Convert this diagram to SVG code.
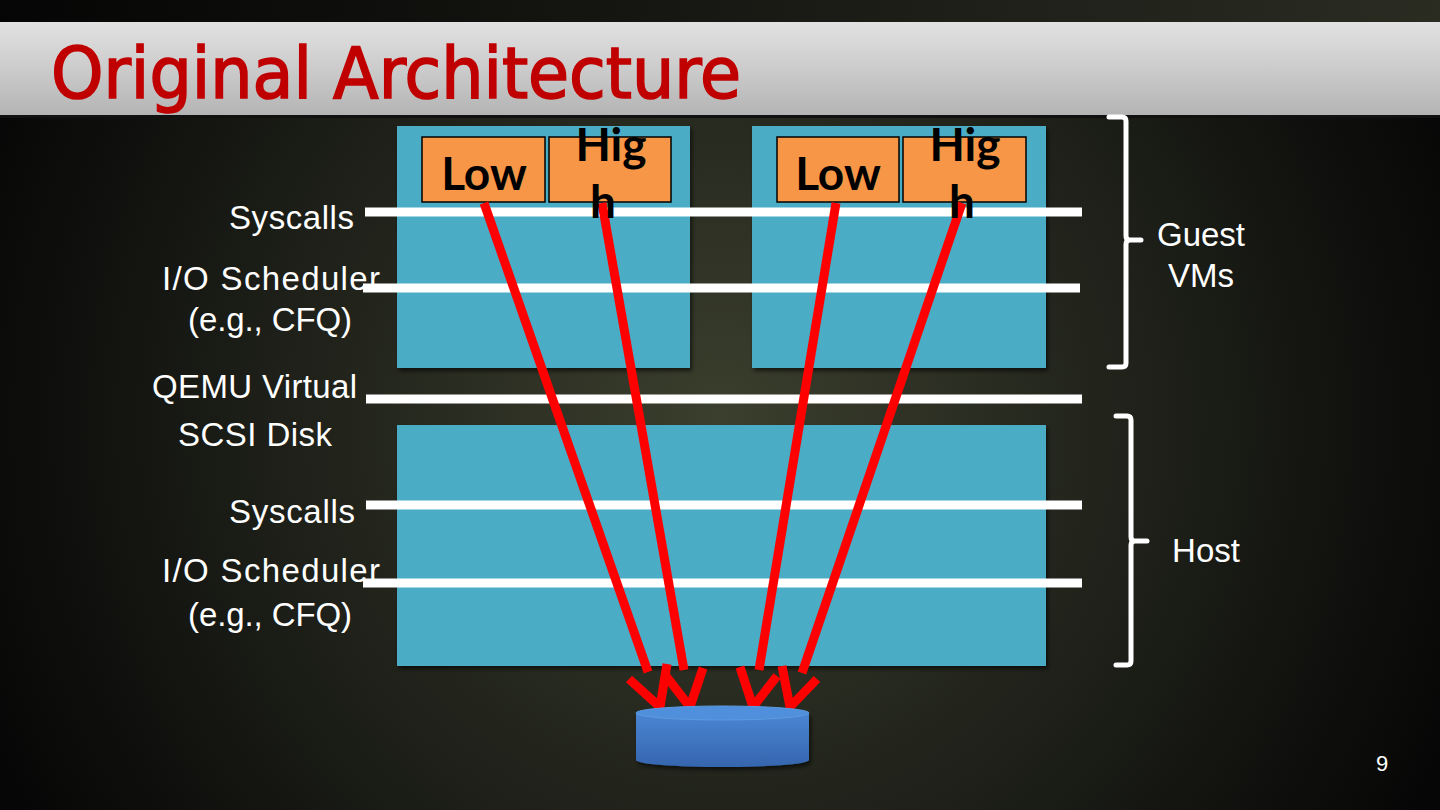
<svg xmlns="http://www.w3.org/2000/svg" width="1440" height="810" viewBox="0 0 1440 810">
<defs>
<radialGradient id="bg" cx="720" cy="420" r="800" gradientUnits="userSpaceOnUse">
<stop offset="0" stop-color="#3b3f2d"/>
<stop offset="0.55" stop-color="#1e2019"/>
<stop offset="1" stop-color="#060606"/>
</radialGradient>
<linearGradient id="top" x1="0" y1="0" x2="1" y2="0">
<stop offset="0" stop-color="#050505"/>
<stop offset="1" stop-color="#2a2c22"/>
</linearGradient>
<linearGradient id="banner" x1="0" y1="0" x2="0" y2="1">
<stop offset="0" stop-color="#e2e2e2"/>
<stop offset="1" stop-color="#b4b4b4"/>
</linearGradient>
<linearGradient id="disk" x1="0" y1="0" x2="0" y2="1">
<stop offset="0" stop-color="#4a86d4"/>
<stop offset="1" stop-color="#3565ad"/>
</linearGradient>
<filter id="sh" x="-10%" y="-10%" width="130%" height="130%">
<feDropShadow dx="2" dy="3" stdDeviation="2" flood-color="#000" flood-opacity="0.6"/>
</filter>
<style>
.vm{fill:#4bacc6;filter:url(#sh)}
.pr{fill:#f79646;stroke:#000;stroke-width:1.5}
.pt{font-family:Lato,"Open Sans",sans-serif;font-weight:bold;font-size:46px;fill:#000;text-anchor:middle}
.lbl{font-family:"Liberation Sans",Arial,sans-serif;font-size:33px;fill:#fff;text-anchor:end}
.rl{font-family:"Liberation Sans",Arial,sans-serif;font-size:33px;fill:#fff;text-anchor:middle}
.wl{stroke:#fff;stroke-width:9;fill:none}
.ar{stroke:#ff0000;stroke-width:9;fill:none}
.br{stroke:#fff;stroke-width:5;fill:none;stroke-linecap:round;stroke-linejoin:round}
</style>
</defs>
<rect width="1440" height="810" fill="url(#bg)"/>
<rect width="1440" height="22" fill="url(#top)"/>
<rect y="22" width="1440" height="94" fill="url(#banner)"/>
<rect y="115" width="1440" height="3" fill="#111"/>
<text x="51" y="98" font-family="'DejaVu Sans Condensed','Liberation Sans Narrow',sans-serif" font-size="71" fill="#c00000" stroke="#c00000" stroke-width="1.6" textLength="690" lengthAdjust="spacingAndGlyphs">Original Architecture</text>

<g id="vm1"><rect class="vm" x="397" y="126" width="293" height="242"/></g>
<g id="vm2"><rect class="vm" x="752" y="126" width="294" height="242"/></g>
<g id="host"><rect class="vm" x="397" y="425" width="649" height="241"/></g>

<g id="low1"><rect class="pr" x="422" y="137" width="123" height="65"/></g>
<g id="high1"><rect class="pr" x="549" y="137" width="122" height="65"/></g>
<g id="low2"><rect class="pr" x="777" y="137" width="122" height="65"/></g>
<g id="high2"><rect class="pr" x="903" y="137" width="123" height="65"/></g>

<g id="layers">
<line class="wl" x1="365" y1="212" x2="1082" y2="212"/>
<line class="wl" x1="363" y1="288" x2="1080" y2="288"/>
<line class="wl" x1="366" y1="399" x2="1082" y2="399"/>
<line class="wl" x1="366" y1="505" x2="1082" y2="505"/>
<line class="wl" x1="363" y1="583" x2="1082" y2="583"/>
</g>

<g id="connectors">
<line class="ar" x1="484" y1="203" x2="648" y2="672"/>
<polyline class="ar" points="629,679 660,707 667,664"/>
<line class="ar" x1="602" y1="203" x2="684" y2="670"/>
<polyline class="ar" points="666,676 690,707 703,668"/>
<line class="ar" x1="836" y1="203" x2="759" y2="670"/>
<polyline class="ar" points="740,667 753,707 777,676"/>
<line class="ar" x1="962" y1="203" x2="802" y2="673"/>
<polyline class="ar" points="782,666 790,707 817,679"/>
</g>

<g id="labels-prio">
<text class="pt" x="484" y="190">Low</text>
<text class="pt" x="611" y="161">Hig</text>
<text class="pt" x="603" y="218">h</text>
<text class="pt" x="838" y="190">Low</text>
<text class="pt" x="965" y="161">Hig</text>
<text class="pt" x="962" y="218">h</text>
</g>

<g id="left-labels">
<text class="lbl" x="354" y="229" textLength="125">Syscalls</text>
<text class="lbl" x="380" y="290" textLength="218">I/O Scheduler</text>
<text class="lbl" x="352" y="331" textLength="164">(e.g., CFQ)</text>
<text class="lbl" x="357" y="398" textLength="205">QEMU Virtual</text>
<text class="lbl" x="332" y="446" textLength="154">SCSI Disk</text>
<text class="lbl" x="355" y="523" textLength="126">Syscalls</text>
<text class="lbl" x="380" y="582" textLength="218">I/O Scheduler</text>
<text class="lbl" x="352" y="626" textLength="164">(e.g., CFQ)</text>
</g>

<g id="guest-bracket">
<path class="br" d="M1109,117 L1122,117 Q1126,117 1126,121 L1126,236 Q1126,240 1130,240 L1141,240 M1130,240 Q1126,240 1126,244 L1126,363 Q1126,367 1122,367 L1109,367"/>
<text class="rl" x="1201" y="246">Guest</text>
<text class="rl" x="1201" y="287">VMs</text>
</g>
<g id="host-bracket">
<path class="br" d="M1116,416 L1127,416 Q1131,416 1131,420 L1131,537 Q1131,541 1135,541 L1147,541 M1135,541 Q1131,541 1131,545 L1131,661 Q1131,665 1127,665 L1116,665"/>
<text class="rl" x="1206" y="562">Host</text>
</g>

<g id="disk-node">
<path d="M636,713 L636,760 A86.5,7 0 0 0 809,760 L809,713 Z" fill="url(#disk)" filter="url(#sh)"/>
<ellipse cx="722.5" cy="713" rx="86.5" ry="7" fill="#4f8fdc" stroke="#5d9ae0" stroke-width="1"/>
</g>

<text x="1382" y="771" font-family="'Liberation Sans',Arial,sans-serif" font-size="22" fill="#fff" text-anchor="middle">9</text>
</svg>
